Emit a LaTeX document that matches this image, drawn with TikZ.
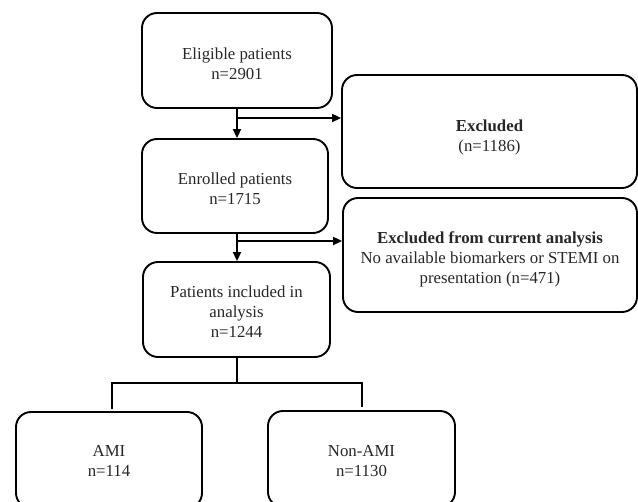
\documentclass[tikz,border=0pt]{standalone}
\usepackage{fontspec}
\setmainfont{Liberation Serif}
\usetikzlibrary{arrows.meta,calc}
\begin{document}
\begin{tikzpicture}[x=1pt,y=-1pt,
  box/.style={draw=black,line width=1.9pt,rounded corners=15pt,inner sep=0pt},
  txt/.style={align=center,inner sep=0pt,font=\fontsize{16.8}{20}\selectfont,text=black!85},
  conn/.style={line width=2pt,draw=black},
  arr/.style={conn,-{Triangle[length=9pt,width=8pt]}}]
\useasboundingbox (0,0) rectangle (638,502);
\clip (0,0) rectangle (638,502);
\node[box,minimum width=190pt,minimum height=95pt] (elig) at (237,60.5) {};
\node[txt,yshift=-3pt] (elig-t) at (elig.center) {Eligible patients\\n=2901};
\node[box,minimum width=186pt,minimum height=94pt] (enr) at (235,186) {};
\node[txt,yshift=-3pt] (enr-t) at (enr.center) {Enrolled patients\\n=1715};
\node[box,minimum width=187pt,minimum height=95pt] (pat) at (236.5,309.5) {};
\node[txt,yshift=-2.5pt] (pat-t) at (pat.center) {Patients included in\\analysis\\n=1244};
\node[box,minimum width=295pt,minimum height=113pt] (exc1) at (489.5,131.5) {};
\node[txt,yshift=-6pt] (exc1-t) at (exc1.center) {\textbf{Excluded}\\(n=1186)};
\node[box,minimum width=294pt,minimum height=114pt] (exc2) at (490,255) {};
\node[txt,yshift=-4pt] (exc2-t) at (exc2.center) {\textbf{Excluded from current analysis}\\No available biomarkers or STEMI on\\presentation (n=471)};
\node[box,minimum width=186pt,minimum height=96pt] (ami) at (109,460) {};
\node[txt,yshift=-1pt] (ami-t) at (ami.center) {AMI\\n=114};
\node[box,minimum width=187pt,minimum height=96pt] (non) at (361.5,459) {};
\node[txt,yshift=-2pt] (non-t) at (non.center) {Non-AMI\\n=1130};
\coordinate (t1) at (237,0);
\coordinate (b1) at (237,118);
\coordinate (b2) at (237,241);
\coordinate (sp) at (237,383);
\coordinate (la) at (112,383);
\coordinate (lb) at (362,383);
\draw[arr] (elig.south -| t1) -- (enr.north -| t1);
\draw[arr] (b1) -- (b1 -| exc1.west);
\draw[arr] (enr.south -| t1) -- (pat.north -| t1);
\draw[arr] (b2) -- (b2 -| exc2.west);
\draw[conn] (pat.south -| t1) -- (sp);
\draw[conn] ($(la |- ami.north)+(0,-2)$) -- (la) -- (lb) -- ($(lb |- non.north)+(0,-3)$);
\end{tikzpicture}
\end{document}
